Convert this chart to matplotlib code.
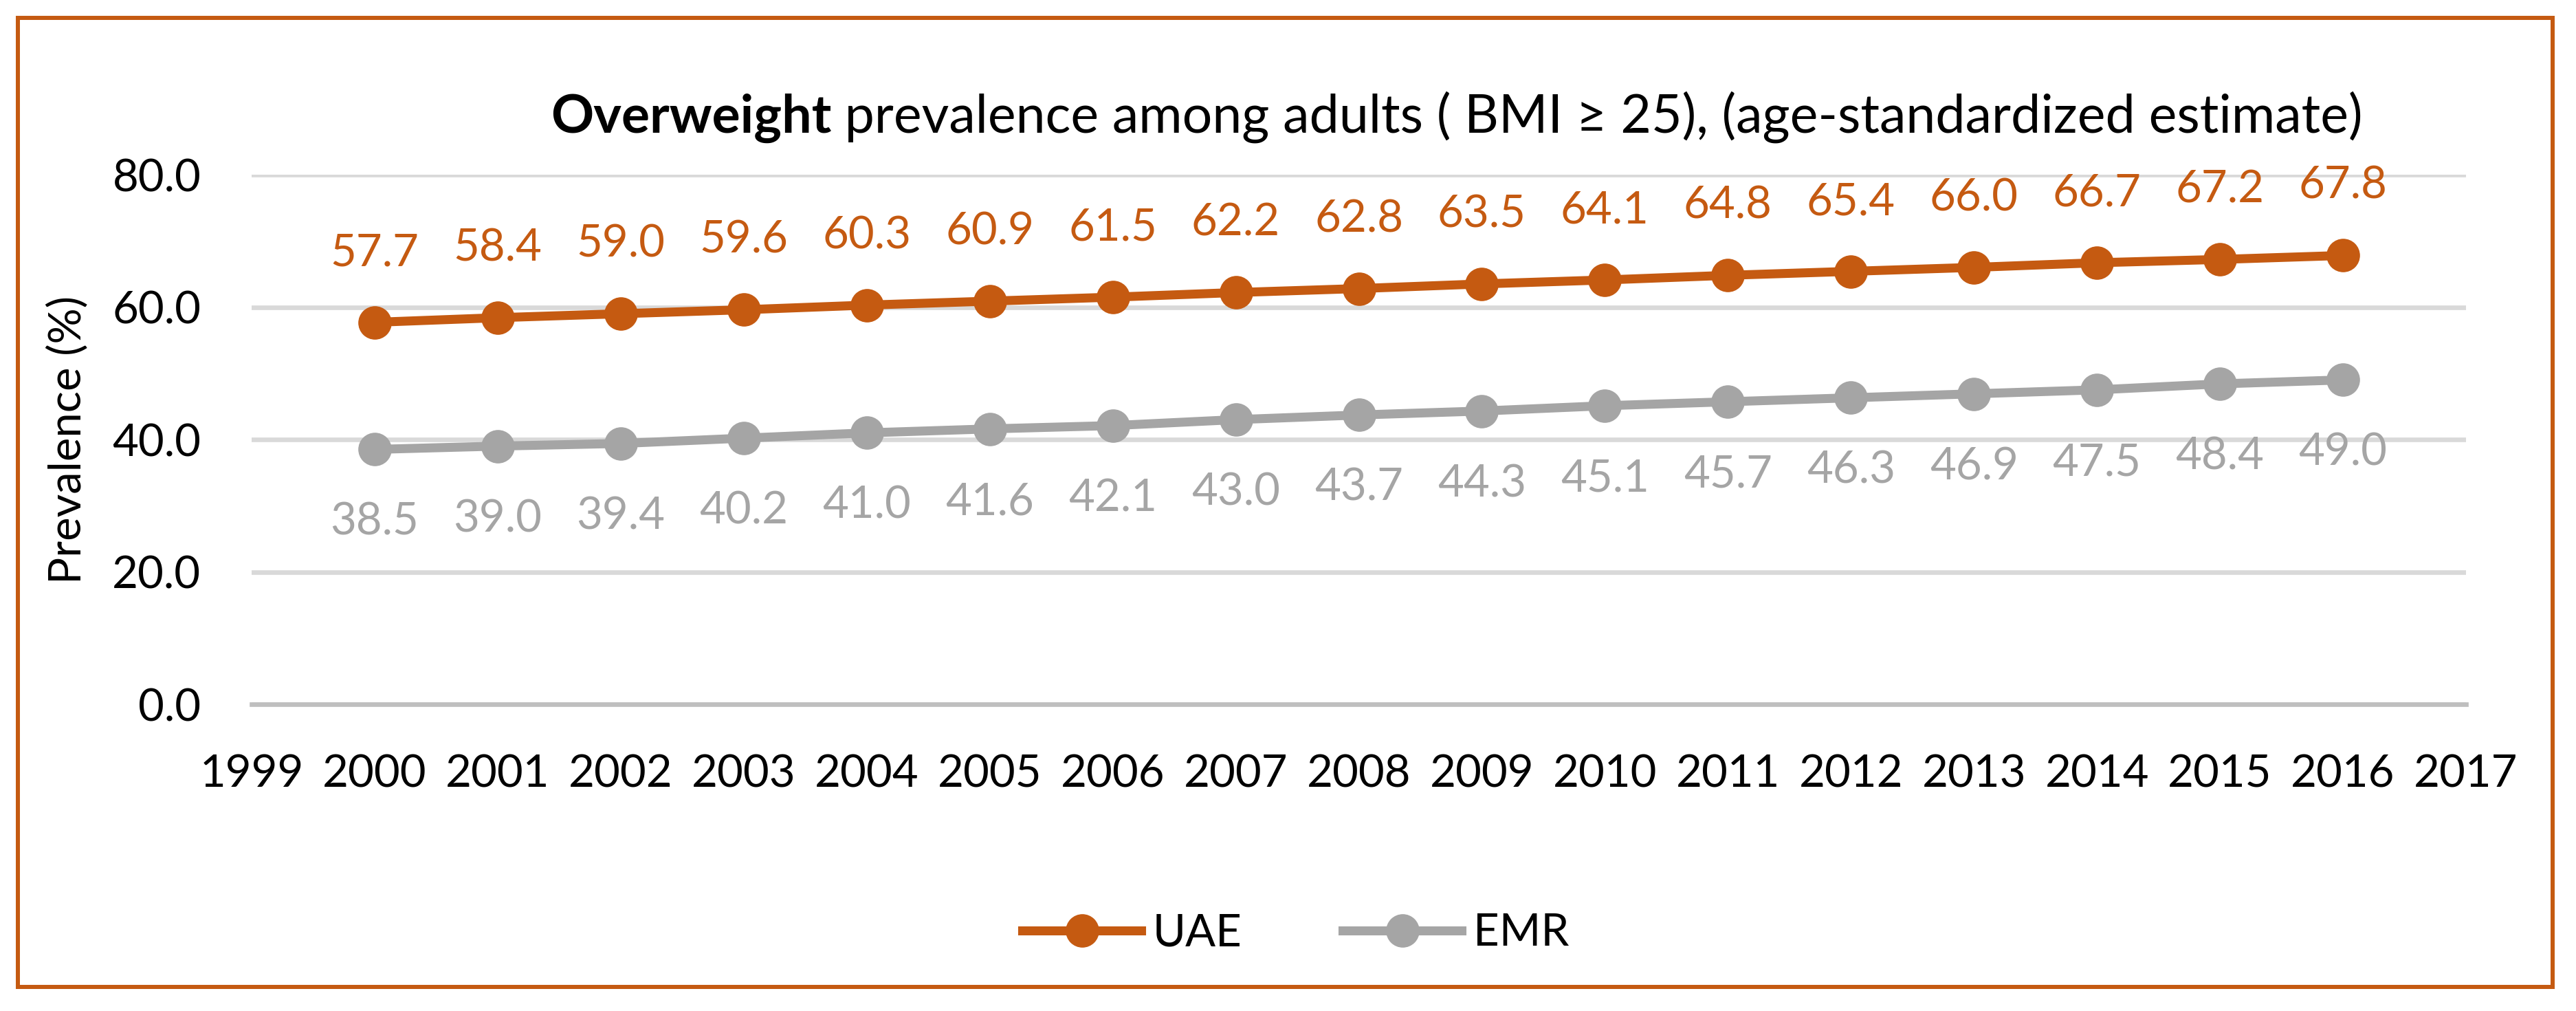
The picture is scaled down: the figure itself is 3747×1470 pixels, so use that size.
import matplotlib
matplotlib.use("Agg")
import matplotlib.pyplot as plt
from matplotlib.lines import Line2D
from matplotlib.patches import Rectangle

# dados (prevalencia de sobrepeso, %)
anos = list(range(2000, 2017))
uae = [57.7, 58.4, 59.0, 59.6, 60.3, 60.9, 61.5, 62.2, 62.8, 63.5, 64.1, 64.8, 65.4, 66.0, 66.7, 67.2, 67.8]
emr = [38.5, 39.0, 39.4, 40.2, 41.0, 41.6, 42.1, 43.0, 43.7, 44.3, 45.1, 45.7, 46.3, 46.9, 47.5, 48.4, 49.0]
anos_eixo = list(range(1999, 2018))
valores_y = [0, 20, 40, 60, 80]
series = ["UAE", "EMR"]

laranja = "#C55A11"
cinza = "#A5A5A5"
tamanho = 47

plt.rcParams['font.family'] = ['Lato', 'DejaVu Sans']

fig = plt.figure(figsize=(37.47, 14.70), dpi=100)
ax = fig.add_axes([0.0977, 0.3034, 0.8596, 0.5238])

# linhas com marcadores
ax.plot(anos, uae, color=laranja, linewidth=9.4, marker='o', markersize=34, zorder=3)
ax.plot(anos, emr, color=cinza, linewidth=9.4, marker='o', markersize=34, zorder=3)

# rotulos dos pontos
for ano, v in zip(anos, uae):
    ax.annotate(f"{v:.1f}", (ano, v), xytext=(0, 72.7), textcoords='offset points',
                ha='center', va='center', color=laranja, fontsize=tamanho)
for ano, v in zip(anos, emr):
    ax.annotate(f"{v:.1f}", (ano, v), xytext=(0, -76.3), textcoords='offset points',
                ha='center', va='center', color=cinza, fontsize=tamanho)

ax.set_xlim(1999, 2017)
ax.set_ylim(0, 80)
ax.set_xticks(anos_eixo)
ax.set_xticklabels([str(a) for a in anos_eixo])
ax.set_yticks(valores_y)
ax.set_yticklabels([f"{v:.1f}" for v in valores_y])
ax.tick_params(axis='both', length=0, labelsize=tamanho, colors='black')
ax.tick_params(axis='x', pad=52)
ax.tick_params(axis='y', pad=53)

ax.yaxis.grid(True, color="#D9D9D9", linewidth=4.8)
ax.set_axisbelow(True)
for lado in ['left', 'right', 'top']:
    ax.spines[lado].set_visible(False)
ax.spines['bottom'].set_color("#BFBFBF")
ax.spines['bottom'].set_linewidth(4.8)
ax.spines['bottom'].set_zorder(1)

fig.text(0.026, 0.5653, "Prevalence (%)", rotation=90, ha='center', va='center', fontsize=tamanho)

# titulo: parte em negrito + resto normal
t1 = fig.text(0, 0.8687, "Overweight", fontsize=55.5, fontweight='bold', va='baseline')
t2 = fig.text(0, 0.8687, " prevalence among adults ( BMI \u2265 25), (age-standardized estimate)",
              fontsize=55.5, va='baseline')
fig.canvas.draw()
r = fig.canvas.get_renderer()
w1 = t1.get_window_extent(r).width / fig.bbox.width
w2 = t2.get_window_extent(r).width / fig.bbox.width
x0 = 0.5655 - (w1 + w2) / 2
t1.set_x(x0)
t2.set_x(x0 + w1)

# legenda
alcas = [Line2D([], [], color=laranja, linewidth=9.4, marker='o', markersize=34),
         Line2D([], [], color=cinza, linewidth=9.4, marker='o', markersize=34)]
fig.legend(alcas, series, loc='center', bbox_to_anchor=(0.503, 0.0769), ncol=2, frameon=False,
           fontsize=tamanho, handlelength=2.65, handletextpad=0.25, columnspacing=2.25)

# moldura laranja
fig.patches.append(Rectangle((0.00694, 0.0238), 0.984, 0.9585, transform=fig.transFigure,
                             fill=False, edgecolor=laranja, linewidth=4.3))

fig.savefig("out.png", dpi=100)
